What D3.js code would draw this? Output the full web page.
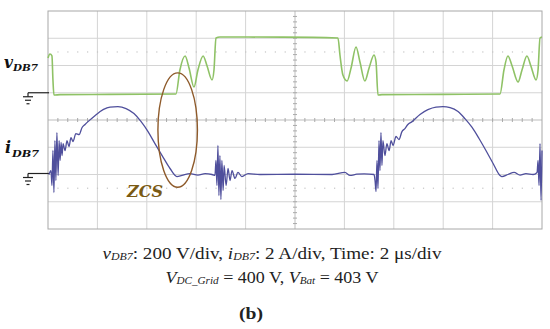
<!DOCTYPE html>
<html>
<head>
<meta charset="utf-8">
<style>
html, body { margin: 0; padding: 0; background: #fff; }
svg { display: block; }
.lbl { font-family: "DejaVu Serif", "Liberation Serif", serif; font-weight: bold; font-style: italic; }
.cap { font-family: "Liberation Serif", serif; fill: #222; }
</style>
<script src="https://cdn.jsdelivr.net/npm/d3@7"></script>
</head>
<body>
<script>
// vDB7 trace, time in us, voltage in V
var vTime = [0, 0.08, 0.16, 0.20, 0.24, 0.49, 2.5, 5.18, 5.34, 5.55, 5.71, 5.91, 6.07, 6.28, 6.44, 6.64, 6.72, 6.80, 6.96,
  9.5, 11.74, 11.82, 11.94, 12.11, 12.27, 12.47, 12.63, 12.83, 13.0, 13.2, 13.28, 13.36, 13.52, 16, 18.3,
  18.46, 18.62, 18.79, 19.03, 19.19, 19.39, 19.55, 19.76, 19.84, 19.92, 20];
var vVolt = [255, 284, 270, 94, -17, -14, -12, -9, 167, 270, 182, 42, 167, 270, 196, 94, 167, 402, 409,
  408, 402, 277, 130, 86, 182, 336, 226, 86, 182, 277, 226, -17, -14, -12, -9,
  167, 270, 196, 79, 167, 270, 196, 94, 167, 402, 409];

// iDB7 trace, time in us, current in A
var iTime = [0.04, 0.12, 0.16, 0.20, 0.24, 0.28, 0.32, 0.36, 0.41, 0.45, 0.49, 0.53, 0.57, 0.61, 0.69, 0.77, 0.85, 0.93, 1.01,
  1.13, 1.26, 1.38, 1.50, 1.62, 1.90, 2.23, 2.51, 2.83, 3.16, 3.48, 3.77, 4.05, 4.33, 4.62, 4.94, 5.22, 5.42, 5.75, 6.07,
  6.36, 6.64, 6.76, 6.80, 6.84, 6.88, 6.92, 6.96, 7.00, 7.04, 7.09, 7.13, 7.21, 7.29, 7.37, 7.45, 7.57, 7.69, 7.85, 8.10,
  8.58, 10.0, 11.5, 12.02, 12.23, 12.5, 12.8, 13.2, 13.24, 13.28, 13.32, 13.36, 13.40, 13.44, 13.48, 13.52, 13.56, 13.64,
  13.72, 13.81, 13.89, 13.97, 14.09, 14.21, 14.33, 14.45, 14.57, 14.74, 15.06, 15.38, 15.71, 15.99, 16.28, 16.60, 16.88,
  17.17, 17.45, 17.73, 18.02, 18.30, 18.38, 18.62, 18.87, 19.11, 19.35, 19.64, 19.80, 19.84, 19.88, 19.92, 19.96, 20];
var iAmp = [0, 0.29, -0.81, 1.76, -1.32, 2.49, -0.44, 3.08, -0.07, 2.49, 1.03, 2.35, 1.39, 2.27, 1.76, 2.49, 2.05, 2.71, 2.42,
  3.0, 2.93, 3.45, 3.67, 3.88, 4.32, 4.76, 4.95, 4.98, 4.84, 4.47, 3.88, 3.15, 2.27, 1.39, 0.44, -0.15, -0.07, 0.07, -0.04,
  0.07, 0, -0.07, 1.03, -0.81, 2.13, -1.54, 1.39, -1.83, 1.03, -1.17, 0.66, -0.81, 0.44, -0.44, 0.29, -0.29, 0.15, -0.15, 0.07,
  0, 0.02, 0, 0.15, -0.07, 0.02, 0.05, 0, -0.44, -1.25, 1.03, -1.03, 2.49, 0.29, 3.08, 0.66, 2.49, 1.39,
  2.27, 1.76, 2.49, 2.13, 2.79, 2.57, 3.15, 3.37, 3.67, 3.88, 4.40, 4.76, 4.95, 4.98, 4.91, 4.62, 4.10,
  3.45, 2.64, 1.76, 0.81, -0.07, -0.15, 0, 0.15, -0.04, 0.07, 0, 0.15, 1.03, -0.81, 2.27, -1.9, 1.76];

var caption1 = ["v", "DB7", ": 200 V/div, ", "i", "DB7", ": 2 A/div, Time: 2 \u03bcs/div"];
var caption2 = ["V", "DC_Grid", " = 400 V, ", "V", "Bat", " = 403 V"];

var w = 550, h = 329;
var svg = d3.select("body").append("svg").attr("width", w).attr("height", h);

var x = d3.scaleLinear().domain([0, 20]).range([48, 542]);
var yDiv = d3.scaleLinear().domain([0, 8]).range([11, 229]);
var yV = d3.scaleLinear().domain([0, 200]).range([yDiv(3), yDiv(2)]);
var yI = d3.scaleLinear().domain([0, 2]).range([yDiv(6), yDiv(5)]);

// graticule
var grid = svg.append("g");
d3.range(1, 10).forEach(function(k) {
  if (k == 5) return;
  grid.append("line").attr("x1", x(k * 2)).attr("x2", x(k * 2)).attr("y1", yDiv(0)).attr("y2", yDiv(8))
    .attr("stroke", "#d4d4d4");
});
d3.range(1, 8).forEach(function(k) {
  if (k == 4) return;
  grid.append("line").attr("x1", x(0)).attr("x2", x(20)).attr("y1", yDiv(k)).attr("y2", yDiv(k))
    .attr("stroke", "#d4d4d4");
});
// dotted marker rows
[1.5, 6.5].forEach(function(r) {
  d3.range(1, 50).forEach(function(k) {
    grid.append("rect").attr("x", x(k * 0.4) - 0.5).attr("y", yDiv(r) - 0.5).attr("width", 1.2).attr("height", 1.2)
      .attr("fill", "#c4c4c4");
  });
});
// center axes with minor ticks
grid.append("line").attr("x1", x(10)).attr("x2", x(10)).attr("y1", yDiv(0)).attr("y2", yDiv(8)).attr("stroke", "#bdbdbd");
grid.append("line").attr("x1", x(0)).attr("x2", x(20)).attr("y1", yDiv(4)).attr("y2", yDiv(4)).attr("stroke", "#bdbdbd");
d3.range(1, 40).forEach(function(k) {
  grid.append("line").attr("x1", x(10) - 2).attr("x2", x(10) + 2).attr("y1", yDiv(k * 0.2)).attr("y2", yDiv(k * 0.2))
    .attr("stroke", "#aaa");
});
d3.range(1, 50).forEach(function(k) {
  grid.append("line").attr("x1", x(k * 0.4)).attr("x2", x(k * 0.4)).attr("y1", yDiv(4) - 2).attr("y2", yDiv(4) + 2)
    .attr("stroke", "#aaa");
});
grid.append("rect").attr("x", x(0)).attr("y", yDiv(0)).attr("width", x(20) - x(0)).attr("height", yDiv(8) - yDiv(0))
  .attr("fill", "none").attr("stroke", "#a8a8a8");

// ground markers
function ground(y0) {
  var g = svg.append("g").attr("stroke", "#222").attr("stroke-width", 1.2);
  g.append("line").attr("x1", 28).attr("x2", x(0) + 1).attr("y1", y0).attr("y2", y0);
  g.append("line").attr("x1", 28).attr("x2", 28).attr("y1", y0).attr("y2", y0 + 4);
  g.append("line").attr("x1", 23).attr("x2", 33).attr("y1", y0 + 4).attr("y2", y0 + 4);
  g.append("line").attr("x1", 25).attr("x2", 31).attr("y1", y0 + 7.5).attr("y2", y0 + 7.5);
  g.append("line").attr("x1", 26.5).attr("x2", 29.5).attr("y1", y0 + 11).attr("y2", y0 + 11);
}
ground(yV(0));
ground(yI(0) - 1);

// traces
var vLine = d3.line().x(function(d, i) { return x(vTime[i]); }).y(function(d) { return yV(d); }).curve(d3.curveMonotoneX);
var iLine = d3.line().x(function(d, i) { return x(iTime[i]); }).y(function(d) { return yI(d); }).curve(d3.curveMonotoneX);
svg.append("path").attr("d", vLine(vVolt)).attr("fill", "none").attr("stroke", "#8fc266").attr("stroke-width", 1.6);
svg.append("path").attr("d", iLine(iAmp)).attr("fill", "none").attr("stroke", "#4f4f9c").attr("stroke-width", 1.3);

// ZCS annotation
svg.append("ellipse").attr("cx", x(5.25)).attr("cy", yDiv(4.37)).attr("rx", x(0.8) - x(0)).attr("ry", yDiv(2.1) - yDiv(0))
  .attr("fill", "none").attr("stroke", "#8e5a2a").attr("stroke-width", 1.4);
svg.append("text").attr("class", "lbl").attr("x", x(3.2)).attr("y", yDiv(6.83)).attr("font-size", 17)
  .attr("fill", "#7a5a14").attr("textLength", 36).attr("lengthAdjust", "spacingAndGlyphs").text("ZCS");

// channel labels
svg.append("text").attr("class", "lbl").attr("x", 4).attr("y", 68).attr("font-size", 17).attr("fill", "#111")
  .attr("textLength", 9).attr("lengthAdjust", "spacingAndGlyphs").text("v");
svg.append("text").attr("class", "lbl").attr("x", 13).attr("y", 71).attr("font-size", 10).attr("fill", "#111")
  .attr("textLength", 25).attr("lengthAdjust", "spacingAndGlyphs").text("DB7");
svg.append("text").attr("class", "lbl").attr("x", 5).attr("y", 153).attr("font-size", 16).attr("fill", "#111").text("i");
svg.append("text").attr("class", "lbl").attr("x", 12).attr("y", 157).attr("font-size", 10).attr("fill", "#111")
  .attr("textLength", 27).attr("lengthAdjust", "spacingAndGlyphs").text("DB7");

// caption
function caption(parts, y, size, len) {
  var t = svg.append("text").attr("class", "cap").attr("x", 272).attr("y", y).attr("text-anchor", "middle")
    .attr("font-size", size).attr("textLength", len).attr("lengthAdjust", "spacingAndGlyphs");
  parts.forEach(function(p, k) {
    var s = t.append("tspan").text(p);
    if (k % 3 == 0) s.attr("font-style", "italic");
    if (k % 3 == 1) s.attr("font-style", "italic").attr("font-size", size * 0.62).attr("dy", 1);
    if (k % 3 == 2) s.attr("dy", -1);
  });
  return t;
}
caption(caption1, 259, 17.5, 339);
caption(caption2, 283, 17.5, 213);
svg.append("text").attr("class", "cap").attr("x", 251).attr("y", 319).attr("text-anchor", "middle")
  .attr("font-size", 17).attr("font-weight", "bold").attr("textLength", 24).attr("lengthAdjust", "spacingAndGlyphs")
  .text("(b)");
</script>
</body>
</html>
